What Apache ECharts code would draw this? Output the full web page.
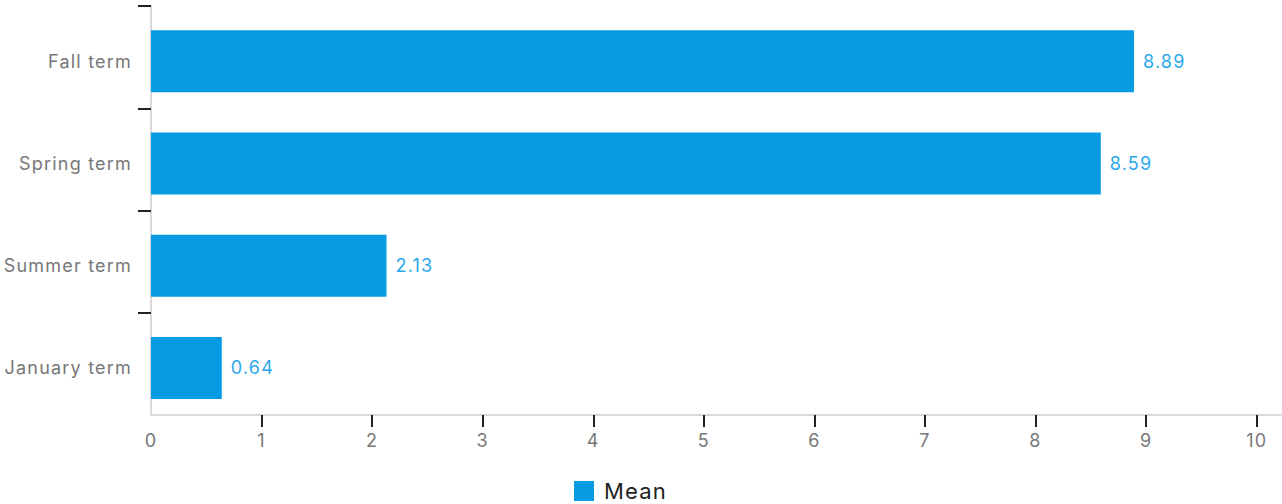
<!DOCTYPE html>
<html>
<head>
<meta charset="utf-8">
<script src="https://cdn.jsdelivr.net/npm/echarts@6/dist/echarts.min.js"></script>
<style>
  html, body { margin: 0; padding: 0; background: #fff; }
  #chart { width: 1282px; height: 504px; }
  /* the chart's typography is slightly tracked out */
  #chart svg text { letter-spacing: 1.2px; }
</style>
</head>
<body>
<div id="chart"></div>
<script>
// Term categories, listed bottom to top
const terms = ['January term', 'Summer term', 'Spring term', 'Fall term'];
// Mean value for each term
const meanValues = [0.64, 2.13, 8.59, 8.89];
// Value-axis tick labels and tick marks
const xLabels = [0, 1, 2, 3, 4, 5, 6, 7, 8, 9, 10];
const xTickMarks = [1, 2, 3, 4, 5, 6, 7, 8, 9, 10];
// Category separators on the left axis (band edges, bottom edge omitted)
const bandEdges = [1, 2, 3, 4];

const chart = echarts.init(document.getElementById('chart'), null, { renderer: 'svg' });
const font = 'Inter, "Noto Sans", sans-serif';
const xMax = 10.22;

chart.setOption({
  animation: false,
  textStyle: { fontFamily: font },
  grid: [
    // frame: axis lines and tick marks
    { left: 151, right: 1, top: 6, bottom: 89 },
    // bars and category labels
    { left: 151, right: 1, top: 10, bottom: 85 }
  ],
  xAxis: [{
    type: 'value',
    gridIndex: 0,
    min: 0,
    max: xMax,
    splitLine: { show: false },
    axisLine: { show: true, lineStyle: { color: '#d9d9d9', width: 2 } },
    axisTick: { show: true, length: 12, customValues: xTickMarks, lineStyle: { color: '#222', width: 2 } },
    axisLabel: { customValues: xLabels, margin: 16, color: '#777', fontSize: 18, fontFamily: font }
  }, {
    type: 'value',
    gridIndex: 1,
    min: 0,
    max: xMax,
    show: false,
    splitLine: { show: false }
  }],
  yAxis: [{
    type: 'value',
    gridIndex: 0,
    min: 0,
    max: terms.length,
    splitLine: { show: false },
    axisLine: { show: true, lineStyle: { color: '#d9d9d9', width: 2 } },
    axisTick: { show: true, length: 13, customValues: bandEdges, lineStyle: { color: '#222', width: 2 } },
    axisLabel: { show: false }
  }, {
    type: 'category',
    gridIndex: 1,
    data: terms,
    axisLine: { show: false },
    axisTick: { show: false },
    axisLabel: { margin: 19, color: '#777', fontSize: 18, fontFamily: font }
  }],
  legend: {
    left: 569,
    top: 475,
    itemWidth: 20,
    itemHeight: 20,
    itemGap: 10,
    icon: 'rect',
    textStyle: { color: '#222', fontSize: 22, fontFamily: font, padding: [0, 0, 0, 5] },
    data: ['Mean']
  },
  series: [{
    name: 'Mean',
    type: 'bar',
    xAxisIndex: 1,
    yAxisIndex: 1,
    data: meanValues,
    barWidth: 62,
    itemStyle: { color: '#069be3' },
    label: {
      show: true,
      position: 'right',
      distance: 9,
      color: '#2aa8ea',
      fontSize: 18,
      fontFamily: font
    }
  }]
});
</script>
</body>
</html>
